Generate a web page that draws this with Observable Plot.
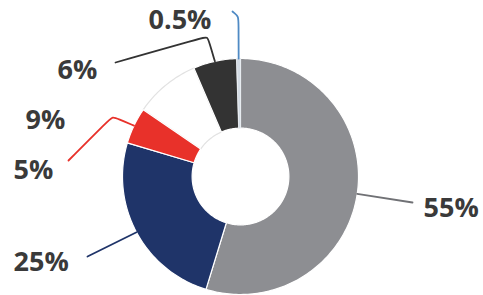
<!DOCTYPE html>
<html>
<head>
<meta charset="utf-8">
<script src="https://cdn.jsdelivr.net/npm/d3@7"></script>
<script src="https://cdn.jsdelivr.net/npm/@observablehq/plot@0.6"></script>
<style>
  html, body { margin: 0; padding: 0; background: #fff; }
</style>
</head>
<body>
<div id="chart"></div>
<script>
// ---- data ----
const categories = ["A", "B", "C", "D", "E", "F"];
const values = [55, 25, 5, 9, 6, 0.5];
const labels = ["55%", "25%", "5%", "9%", "6%", "0.5%"];

// ---- styles ----
const sliceColors = ["#8d8e92", "#1f3469", "#e8312a", "#ffffff", "#333333", "#d3dbe4"];
const leaderColors = ["#707175", "#1f3469", "#e8312a", null, "#333333", "#4f8ac4"];

// ---- layout (pixels) ----
const W = 483, H = 295;
const cx = 240, cy = 176, R = 118, innerFrac = 0.41;
const labelPos = [[423, 208], [13, 262], [13, 170], [25, 120], [57, 70], [148, 20]];
const leaderPts = [
  [[412, 202]],
  [[87, 256]],
  [[112, 116], [68, 160]],
  null,
  [[207, 36], [115, 62]],
  [[238, 16], [232, 11]]
];

const toX = px => (px - cx) / R;
const toY = py => (cy - py) / R;

const arcs = d3.pie().sort(null).value(d => d)(values);

// slice polygons in unit space
const slicePts = [];
arcs.forEach((a, i) => {
  const n = Math.max(4, Math.ceil((a.endAngle - a.startAngle) / 0.02));
  for (let k = 0; k <= n; k++) {
    const t = a.startAngle + (a.endAngle - a.startAngle) * k / n;
    slicePts.push({cat: categories[i], x: Math.sin(t), y: Math.cos(t)});
  }
  for (let k = n; k >= 0; k--) {
    const t = a.startAngle + (a.endAngle - a.startAngle) * k / n;
    slicePts.push({cat: categories[i], x: innerFrac * Math.sin(t), y: innerFrac * Math.cos(t)});
  }
});

// leader lines with rounded elbows
const leaders = [];
arcs.forEach((a, i) => {
  if (!leaderPts[i]) return;
  const mid = (a.startAngle + a.endAngle) / 2;
  const pts = [[Math.sin(mid) * 1.0, Math.cos(mid) * 1.0]].concat(leaderPts[i].map(p => [toX(p[0]), toY(p[1])]));
  const out = [pts[0]];
  for (let k = 1; k < pts.length; k++) {
    if (k < pts.length - 1) {
      const e = pts[k], p = pts[k - 1], q = pts[k + 1];
      const r = 6 / R;
      const dp = Math.hypot(p[0] - e[0], p[1] - e[1]), dq = Math.hypot(q[0] - e[0], q[1] - e[1]);
      out.push([e[0] + (p[0] - e[0]) * r / dp, e[1] + (p[1] - e[1]) * r / dp]);
      out.push(e);
      out.push([e[0] + (q[0] - e[0]) * r / dq, e[1] + (q[1] - e[1]) * r / dq]);
    } else out.push(pts[k]);
  }
  out.forEach(p => leaders.push({cat: categories[i], x: p[0], y: p[1], color: leaderColors[i]}));
});

const labelData = labels.map((t, i) => ({text: t, x: toX(labelPos[i][0]), y: toY(labelPos[i][1])}));

const whiteOutline = slicePts.filter(d => d.cat === "D");
const others = slicePts.filter(d => d.cat !== "D" && d.cat !== "F");
const thin = slicePts.filter(d => d.cat === "F");

const chart = Plot.plot({
  width: W, height: H,
  margin: 0,
  x: {domain: [toX(0), toX(W)], axis: null},
  y: {domain: [toY(H), toY(0)], axis: null},
  color: {domain: categories, range: sliceColors},
  marks: [
    Plot.line(whiteOutline, {x: "x", y: "y", curve: "linear-closed", fill: "#ffffff", stroke: "#e2e2e2", strokeWidth: 1.2}),
    Plot.line(others, {x: "x", y: "y", z: "cat", fill: "cat", curve: "linear-closed", stroke: "#ffffff", strokeWidth: 1.2}),
    Plot.line(thin, {x: "x", y: "y", z: "cat", fill: "cat", curve: "linear-closed", stroke: "#e6ebf0", strokeWidth: 0.8}),
    Plot.line(leaders, {x: "x", y: "y", z: "cat", stroke: "color", curve: "basis", strokeWidth: 1.8}),
    Plot.text(labelData, {x: "x", y: "y", text: "text", textAnchor: "start", fontSize: 27, fontWeight: 700, fontFamily: "Open Sans", fill: "#3a3a3a"})
  ]
});
document.getElementById("chart").appendChild(chart);
</script>
</body>
</html>
